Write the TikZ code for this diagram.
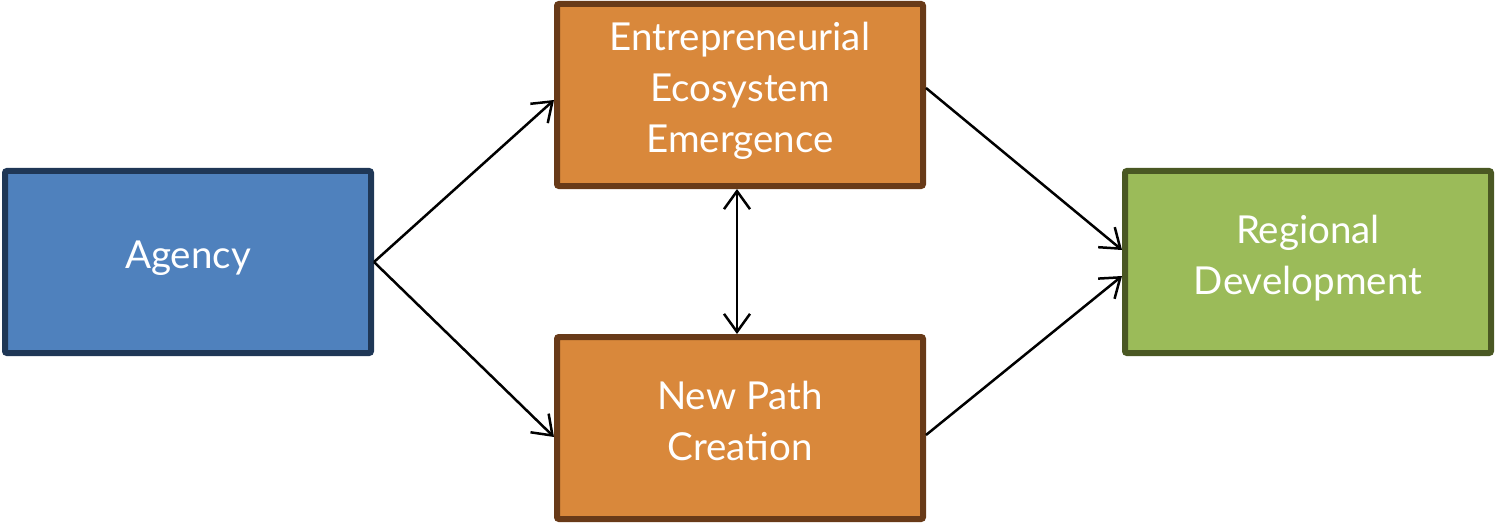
\documentclass[tikz,border=0pt]{standalone}
\usepackage{fontspec}
\setmainfont{Lato}
\usetikzlibrary{arrows.meta}
\definecolor{agfill}{RGB}{79,129,189}
\definecolor{agline}{RGB}{31,55,86}
\definecolor{orfill}{RGB}{217,136,59}
\definecolor{orline}{RGB}{104,58,24}
\definecolor{grfill}{RGB}{155,187,89}
\definecolor{grline}{RGB}{74,88,35}
% lift a line of text without changing its box
\newcommand\up[2][4pt]{\raisebox{#1}[\height][\depth]{#2}}
\tikzset{
	box/.style={draw, line width=6pt, rounded corners=2pt, minimum width=366pt, minimum height=182pt,
		text=white, align=center, font=\fontsize{38.5}{51}\selectfont},
	arr/.style={line width=2.5pt, -{Straight Barb[length=18pt,width=26pt,line width=2.5pt]}},
	darr/.style={line width=2.5pt, {Straight Barb[length=18pt,width=26pt,line width=2.5pt]}-{Straight Barb[length=18pt,width=26pt,line width=2.5pt]}}
}

\begin{document}
\begin{tikzpicture}[x=1pt,y=-1pt]
			\useasboundingbox (0,0) rectangle (1497,524);
			\node[box, fill=agfill, draw=agline] (agency) at (188,262) {\up{Agency}};
			\node[box, fill=orfill, draw=orline] (eee) at (740,95) {\up{Entrepreneurial}\\\up{Ecosystem}\\\up{Emergence}};
			\node[box, fill=orfill, draw=orline] (npc) at (740,428) {\up[7pt]{New Path}\\\up[7pt]{Creation}};
			\node[box, fill=grfill, draw=grline] (rd) at (1308,262) {\up{Regional}\\\up{Development}};
			\draw[arr] (agency.east) -- ([yshift=-5pt]eee.west);
			\draw[arr] (agency.east) -- ([yshift=-9pt]npc.west);
			\draw[arr] ([yshift=7pt]eee.east) -- ([yshift=12pt]rd.west);
			\draw[arr] ([yshift=-7pt]npc.east) -- ([yshift=-14pt]rd.west);
			\draw[darr] ([xshift=-3pt]eee.south) -- ([xshift=-3pt]npc.north);
		\end{tikzpicture}
\end{document}
